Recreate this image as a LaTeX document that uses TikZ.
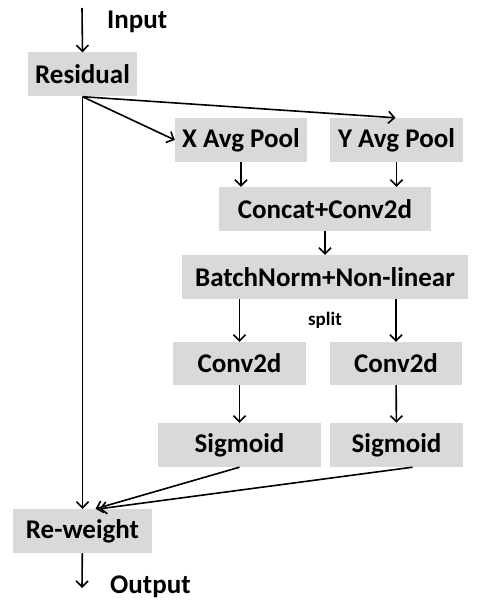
\documentclass[tikz,border=0pt]{standalone}
\usepackage{fontspec}
\setmainfont{Carlito}
\usetikzlibrary{arrows.meta,positioning}
\definecolor{boxgray}{RGB}{217,217,217}
\tikzset{
  block/.style={rectangle,fill=boxgray,minimum height=44pt,inner sep=2pt,
    font=\fontsize{27}{30}\selectfont\bfseries},
  plain/.style={font=\fontsize{27}{30}\selectfont\bfseries,inner sep=0pt},
  flow/.style={line width=1.6pt}
}

\begin{document}
\begin{tikzpicture}[x=1pt,y=-1pt,>={Straight Barb[length=6pt,width=12pt]}]
  \useasboundingbox (0,0) rectangle (484,604);
  \node[block,minimum width=109pt] (res) at (82.5,74.5) {Residual};
  \node[block,minimum width=132pt] (xp) at (241,140) {X Avg Pool};
  \node[block,minimum width=133pt] (yp) at (396.5,140) {Y Avg Pool};
  \node[block,minimum width=212pt] (cat) at (325,209) {Concat+Conv2d};
  \node[block,minimum width=286pt] (bn) at (325,277) {BatchNorm+Non-linear};
  \node[block,minimum width=133pt,minimum height=43pt] (cl) at (239.5,363.5) {Conv2d};
  \node[block,minimum width=132pt,minimum height=43pt] (cr) at (396,363.5) {Conv2d};
  \node[block,minimum width=163pt] (sl) at (239.5,445) {Sigmoid};
  \node[block,minimum width=133pt] (sr) at (396.5,445) {Sigmoid};
  \node[block,minimum width=139pt] (rw) at (82.5,531) {Re-weight};
  \node[plain,anchor=base west] (in) at (107,29) {Input};
  \node[plain,anchor=base west] (out) at (110,593) {Output};
  \node[font=\fontsize{19}{22}\selectfont\bfseries] (split) at (325,320) {split};
  \coordinate (top) at (82,8);
  \coordinate (bot) at (82,588);

  \draw[flow,->] (top)--(res.north);
  \draw[flow,->] (res.south)--(xp.west);
  \draw[flow,->] (res.south)--([xshift=-1pt]yp.north);
  \draw[flow,->] (res.south)--(rw.north);
  \draw[flow,->] (xp)--(xp|-cat.north); \draw[flow,->] (yp)--(yp|-cat.north);
  \draw[flow,->] (cat)--(bn);
  \draw[flow,->] (bn.south-|cl)--(cl); \draw[flow,->] (bn.south-|cr)--(cr);
  \draw[flow,->] (cl)--(sl); \draw[flow,->] (cr)--(sr);
  \draw[flow,->] (sl.south)--([xshift=13pt]rw.north);
  \draw[flow,->] ([xshift=16pt]sr.south)--([xshift=17pt]rw.north);
  \draw[flow,->] (rw)--(bot);
\end{tikzpicture}
\end{document}
